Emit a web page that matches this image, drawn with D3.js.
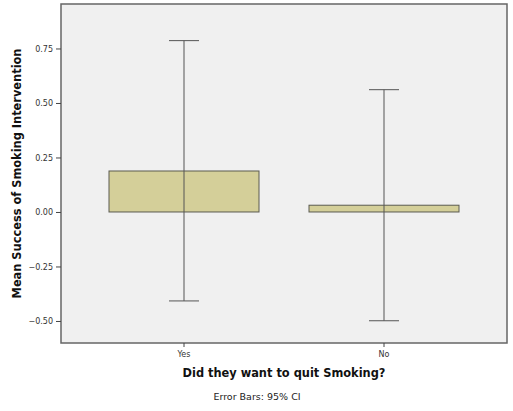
<!DOCTYPE html>
<html>
<head>
<meta charset="utf-8">
<script src="https://cdn.jsdelivr.net/npm/d3@7"></script>
<style>
  body { margin: 0; background: #fff; }
  text { font-family: "DejaVu Sans", Verdana, sans-serif; }
</style>
</head>
<body>
<div id="chart"></div>
<script>
// data
var categories = ["Yes", "No"];
var means = [0.188, 0.031];
var ciLow = [-0.408, -0.499];
var ciHigh = [0.786, 0.561];
var yTicks = [-0.50, -0.25, 0.00, 0.25, 0.50, 0.75];

var svgWidth = 513;
var svgHeight = 411;

var margin = { top: 4, right: 6, bottom: 68, left: 61 };
var width = svgWidth - margin.left - margin.right;
var height = svgHeight - margin.top - margin.bottom;

var svg = d3.select("#chart")
  .append("svg")
  .attr("width", svgWidth)
  .attr("height", svgHeight);

var chartGroup = svg.append("g")
  .attr("transform", `translate(${margin.left}, ${margin.top})`);

var x = d3.scaleBand()
  .domain(categories)
  .range([0, width])
  .paddingInner(0.25)
  .paddingOuter(0.24);

var y = d3.scaleLinear()
  .domain([-0.601, 0.954])
  .range([height, 0]);

// plot background
chartGroup.append("rect")
  .attr("width", width)
  .attr("height", height)
  .attr("fill", "#f0f0f0");

var rows = categories.map((c, i) => ({ cat: c, mean: means[i], lo: ciLow[i], hi: ciHigh[i] }));

// bars
chartGroup.selectAll(".bar")
  .data(rows).enter()
  .append("rect")
  .attr("class", "bar")
  .attr("x", d => x(d.cat))
  .attr("width", x.bandwidth())
  .attr("y", d => y(Math.max(0, d.mean)))
  .attr("height", d => Math.abs(y(d.mean) - y(0)))
  .attr("fill", "#d4cf99")
  .attr("stroke", "#5a5a50")
  .attr("stroke-width", 1);

// error bars
var capHalf = 15;
var eb = chartGroup.selectAll(".err")
  .data(rows).enter()
  .append("g")
  .attr("class", "err")
  .attr("stroke", "#555")
  .attr("stroke-width", 1);

eb.append("line")
  .attr("x1", d => x(d.cat) + x.bandwidth() / 2)
  .attr("x2", d => x(d.cat) + x.bandwidth() / 2)
  .attr("y1", d => y(d.hi))
  .attr("y2", d => y(d.lo));

eb.append("line")
  .attr("x1", d => x(d.cat) + x.bandwidth() / 2 - capHalf)
  .attr("x2", d => x(d.cat) + x.bandwidth() / 2 + capHalf)
  .attr("y1", d => y(d.hi))
  .attr("y2", d => y(d.hi));

eb.append("line")
  .attr("x1", d => x(d.cat) + x.bandwidth() / 2 - capHalf)
  .attr("x2", d => x(d.cat) + x.bandwidth() / 2 + capHalf)
  .attr("y1", d => y(d.lo))
  .attr("y2", d => y(d.lo));

// frame
chartGroup.append("rect")
  .attr("width", width)
  .attr("height", height)
  .attr("fill", "none")
  .attr("stroke", "#666")
  .attr("stroke-width", 1.5);

// axes
var leftAxis = d3.axisLeft(y)
  .tickValues(yTicks)
  .tickFormat(d3.format(".2f"))
  .tickSize(5)
  .tickPadding(3);

var yAxis = chartGroup.append("g").call(leftAxis);
yAxis.select(".domain").remove();

var bottomAxis = d3.axisBottom(x)
  .tickSize(4)
  .tickPadding(4);

var xAxis = chartGroup.append("g")
  .attr("transform", `translate(0, ${height})`)
  .call(bottomAxis);
xAxis.select(".domain").remove();

chartGroup.selectAll(".tick line").attr("stroke", "#444");
chartGroup.selectAll(".tick text")
  .attr("fill", "#333")
  .style("font-size", "8px");

// labels
svg.append("text")
  .attr("transform", `translate(21, ${margin.top + height / 2}) rotate(-90)`)
  .attr("text-anchor", "middle")
  .style("font-size", "11.4px")
  .style("font-weight", "bold")
  .attr("fill", "#111")
  .text("Mean Success of Smoking Intervention");

svg.append("text")
  .attr("x", margin.left + width / 2)
  .attr("y", 377)
  .attr("text-anchor", "middle")
  .style("font-size", "11.4px")
  .style("font-weight", "bold")
  .attr("fill", "#111")
  .text("Did they want to quit Smoking?");

svg.append("text")
  .attr("x", 257)
  .attr("y", 400)
  .attr("text-anchor", "middle")
  .style("font-size", "9.5px")
  .attr("fill", "#222")
  .text("Error Bars: 95% CI");
</script>
</body>
</html>
